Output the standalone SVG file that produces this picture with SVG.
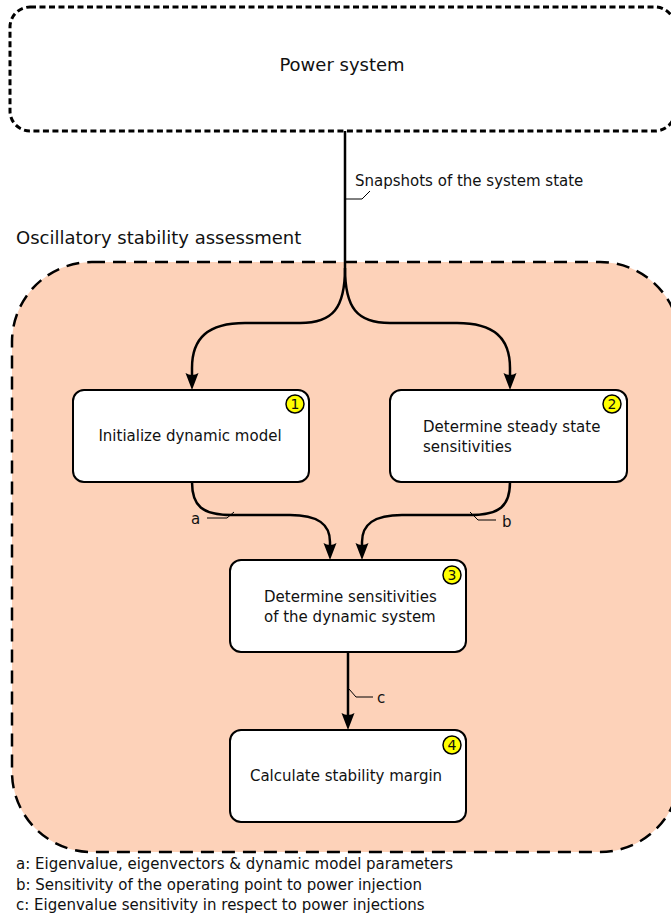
<svg xmlns="http://www.w3.org/2000/svg" width="671" height="918" viewBox="0 0 671 918">
<defs>
<style>
text{font-family:"DejaVu Sans","Liberation Sans",sans-serif;fill:#111}
.t18{font-size:18px}
.t14{font-size:15px}
.box{fill:#fff;stroke:#000;stroke-width:2}
.badge{fill:#ffff00;stroke:#000;stroke-width:1.5}
.bnum{font-size:14px;text-anchor:middle}
.conn{fill:none;stroke:#000;stroke-width:2.5}
.lead{fill:none;stroke:#000;stroke-width:1}
</style>
<marker id="arr" markerUnits="userSpaceOnUse" viewBox="-10 -10 30 20" markerWidth="30" markerHeight="20" refX="0" refY="0" orient="auto" overflow="visible">
<path d="M10,0 L-7,-6.5 Q-3,0 -7,6.5 Z" fill="#000"/>
</marker>
</defs>

<g id="power-system">
<rect x="10" y="7" width="665" height="124" rx="20" fill="#fff" stroke="#000" stroke-width="3" stroke-dasharray="6,3.5"/>
<text class="t18" x="342" y="71" text-anchor="middle">Power system</text>
</g>

<g id="assessment">
<text class="t18" x="16" y="244">Oscillatory stability assessment</text>
<rect x="12" y="262" width="668" height="590" rx="80" fill="#fdd2b9" stroke="#000" stroke-width="2.5" stroke-dasharray="13,8"/>
</g>

<g id="connectors">
<path class="conn" d="M345,131 L345,268 C345,308 333,323 300,323 L245,323 C208,323 192,338 192,368 L192,380" marker-end="url(#arr)"/>
<path class="conn" d="M345,268 C345,308 357,323 390,323 L457,323 C494,323 510,338 510,368 L510,380" marker-end="url(#arr)"/>
<path class="conn" d="M192,482 C192,506 202,515 232,515 L290,515 C318,515 330,524 330,542 L330,550" marker-end="url(#arr)"/>
<path class="conn" d="M510,482 C510,506 500,515 470,515 L402,515 C374,515 362,524 362,542 L362,550" marker-end="url(#arr)"/>
<path class="conn" d="M348,652 L348,720" marker-end="url(#arr)"/>
<path class="lead" d="M346,199 L362,199 L370,191"/>
<text class="t14" x="355" y="186">Snapshots of the system state</text>
<path class="lead" d="M207,518 L227,518 L234,512"/>
<text class="t14" x="191" y="524">a</text>
<path class="lead" d="M470,512 L478,520 L496,520"/>
<text class="t14" x="502" y="527">b</text>
<path class="lead" d="M349,689 L356,697 L373,697"/>
<text class="t14" x="377" y="703">c</text>
</g>

<g id="step1">
<rect class="box" x="73" y="390" width="236" height="92" rx="11"/>
<text class="t14" x="190" y="441" text-anchor="middle">Initialize dynamic model</text>
<circle class="badge" cx="295" cy="404" r="9"/>
<text class="bnum" x="295" y="409">1</text>
</g>

<g id="step2">
<rect class="box" x="390" y="390" width="237" height="92" rx="11"/>
<text class="t14" x="423" y="432">Determine steady state</text>
<text class="t14" x="423" y="452">sensitivities</text>
<circle class="badge" cx="612" cy="404" r="9"/>
<text class="bnum" x="612" y="409">2</text>
</g>

<g id="step3">
<rect class="box" x="230" y="560" width="236" height="92" rx="11"/>
<text class="t14" x="264" y="602">Determine sensitivities</text>
<text class="t14" x="264" y="622">of the dynamic system</text>
<circle class="badge" cx="452" cy="575" r="9"/>
<text class="bnum" x="452" y="580">3</text>
</g>

<g id="step4">
<rect class="box" x="230" y="730" width="236" height="92" rx="11"/>
<text class="t14" x="346" y="781" text-anchor="middle">Calculate stability margin</text>
<circle class="badge" cx="452" cy="745" r="9"/>
<text class="bnum" x="452" y="750">4</text>
</g>

<g id="legend">
<text class="t14" x="16" y="869">a: Eigenvalue, eigenvectors &amp; dynamic model parameters</text>
<text class="t14" x="16" y="890">b: Sensitivity of the operating point to power injection</text>
<text class="t14" x="16" y="910">c: Eigenvalue sensitivity in respect to power injections</text>
</g>
</svg>
